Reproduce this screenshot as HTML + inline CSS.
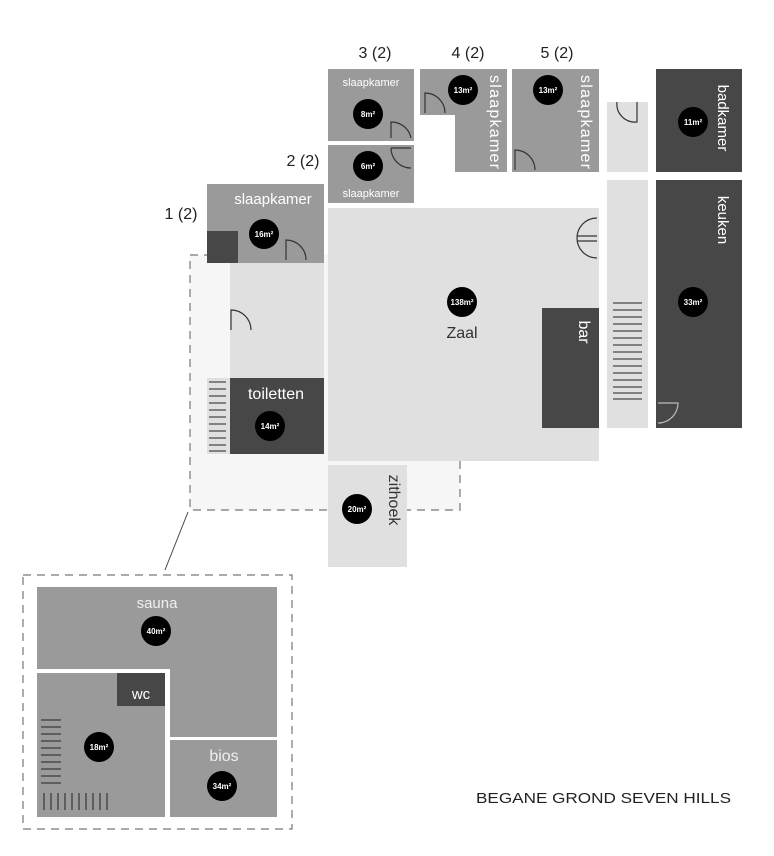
<!DOCTYPE html>
<html><head><meta charset="utf-8"><style>body{margin:0;background:#fff}svg{display:block}text{font-family:"Liberation Sans",sans-serif}</style></head><body>
<svg width="774" height="856" viewBox="0 0 774 856" xmlns="http://www.w3.org/2000/svg">
<rect x="190" y="255" width="270" height="255" fill="#f7f6f6" stroke="#777" stroke-width="1.2" stroke-dasharray="8,6"/>
<rect x="328" y="69" width="86" height="72" fill="#9a9a9a"/>
<rect x="328" y="145" width="86" height="58" fill="#9a9a9a"/>
<path d="M420 69H507V172H455V115H420Z" fill="#9a9a9a"/>
<rect x="512" y="69" width="87" height="103" fill="#9a9a9a"/>
<rect x="607" y="102" width="41" height="70" fill="#e0e0e0"/>
<rect x="656" y="69" width="86" height="103" fill="#474747"/>
<rect x="207" y="184" width="117" height="79" fill="#9a9a9a"/>
<rect x="207" y="231" width="31" height="32" fill="#474747"/>
<rect x="230" y="263" width="94" height="115" fill="#e0e0e0"/>
<rect x="230" y="378" width="94" height="76" fill="#474747"/>
<rect x="207" y="378" width="23" height="76" fill="#e0e0e0"/>
<rect x="328" y="208" width="271" height="253" fill="#e0e0e0"/>
<rect x="542" y="308" width="57" height="120" fill="#474747"/>
<rect x="607" y="180" width="41" height="248" fill="#e0e0e0"/>
<rect x="656" y="180" width="86" height="248" fill="#474747"/>
<rect x="328" y="465" width="79" height="102" fill="#e0e0e0"/>
<g stroke="#222" stroke-width="1">
<path d="M209 382h17M209 389h17M209 396h17M209 403h17M209 410h17M209 417h17M209 424h17M209 431h17M209 438h17M209 445h17M209 451h17"/>
<path d="M613 303h29M613 310h29M613 317h29M613 324h29M613 331h29M613 338h29M613 345h29M613 352h29M613 359h29M613 366h29M613 373h29M613 380h29M613 387h29M613 393h29M613 399h29"/>
</g>
<g fill="none" stroke="#333" stroke-width="1.2">
<path d="M391 138V122A20 20 0 0 1 411 138"/>
<path d="M391 148H411M391 148A20 20 0 0 0 411 168"/>
<path d="M425 113V93A20 20 0 0 1 445 113"/>
<path d="M515 170V150A20 20 0 0 1 535 170"/>
<path d="M286 260V240A20 20 0 0 1 306 260"/>
<path d="M231 330V310A20 20 0 0 1 251 330"/>
<path d="M597 218A20 20 0 0 0 597 258M577 236H597M577 241H597"/>
<path d="M617 102A18 18 0 0 0 637 122V102"/>
</g>
<path d="M658 403H678A20 20 0 0 1 658 423" fill="none" stroke="#bbb" stroke-width="1.2"/>
<line x1="188" y1="512" x2="165" y2="570" stroke="#444" stroke-width="1"/>
<rect x="23" y="575" width="269" height="254" fill="none" stroke="#777" stroke-width="1.2" stroke-dasharray="8,6"/>
<path d="M37 587H277V737H170V669H37Z" fill="#9a9a9a"/>
<rect x="37" y="673" width="128" height="144" fill="#9a9a9a"/>
<rect x="117" y="673" width="48" height="33" fill="#474747"/>
<rect x="170" y="740" width="107" height="77" fill="#9a9a9a"/>
<g stroke="#222" stroke-width="1">
<path d="M41 720h20M41 727h20M41 734h20M41 741h20M41 748h20M41 755h20M41 762h20M41 769h20M41 776h20M41 783h20"/>
<path d="M44 793v17M51 793v17M58 793v17M65 793v17M72 793v17M79 793v17M86 793v17M93 793v17M100 793v17M107 793v17"/>
</g>
<g fill="#000">
<circle cx="368" cy="114" r="15"/><circle cx="368" cy="166" r="15"/><circle cx="463" cy="90" r="15"/><circle cx="548" cy="90" r="15"/>
<circle cx="693" cy="122" r="15"/><circle cx="264" cy="234" r="15"/><circle cx="462" cy="302" r="15"/><circle cx="693" cy="302" r="15"/>
<circle cx="270" cy="426" r="15"/><circle cx="357" cy="509" r="15"/><circle cx="156" cy="631" r="15"/><circle cx="99" cy="747" r="15"/><circle cx="222" cy="786" r="15"/>
</g>
<g fill="#fff" font-size="8" font-weight="bold" text-anchor="middle">
<text x="368" y="117">8m²</text><text x="368" y="169">6m²</text><text x="463" y="93">13m²</text><text x="548" y="93">13m²</text>
<text x="693" y="125">11m²</text><text x="264" y="237">16m²</text><text x="462" y="305">138m²</text><text x="693" y="305">33m²</text>
<text x="270" y="429">14m²</text><text x="357" y="512">20m²</text><text x="156" y="634">40m²</text><text x="99" y="750">18m²</text><text x="222" y="789">34m²</text>
</g>
<g fill="#222" font-size="16" text-anchor="middle">
<text x="375" y="58">3 (2)</text><text x="468" y="58">4 (2)</text><text x="557" y="58">5 (2)</text>
<text x="303" y="166">2 (2)</text><text x="181" y="219">1 (2)</text>
</g>
<g fill="#fff" text-anchor="middle">
<text x="371" y="86" font-size="11">slaapkamer</text>
<text x="371" y="197" font-size="11">slaapkamer</text>
<text x="273" y="204" font-size="15">slaapkamer</text>
<text x="276" y="399" font-size="16">toiletten</text>
<text x="141" y="699" font-size="15">wc</text>
<text x="224" y="761" font-size="16" fill="#eee">bios</text>
<text x="157" y="608" font-size="15" fill="#eee">sauna</text>
<text font-size="16" transform="translate(490 122) rotate(90)" textLength="94">slaapkamer</text>
<text font-size="16" transform="translate(581 122) rotate(90)" textLength="94">slaapkamer</text>
<text font-size="15" transform="translate(718 118) rotate(90)">badkamer</text>
<text font-size="15" transform="translate(718 220) rotate(90)">keuken</text>
<text font-size="16" transform="translate(579 332) rotate(90)">bar</text>
</g>
<text x="462" y="338" font-size="16" fill="#333" text-anchor="middle">Zaal</text>
<text font-size="16" fill="#333" text-anchor="middle" transform="translate(389 500) rotate(90)">zithoek</text>
<text x="476" y="803" font-size="15" fill="#222" textLength="255" lengthAdjust="spacingAndGlyphs">BEGANE GROND SEVEN HILLS</text>
</svg>
</body></html>
